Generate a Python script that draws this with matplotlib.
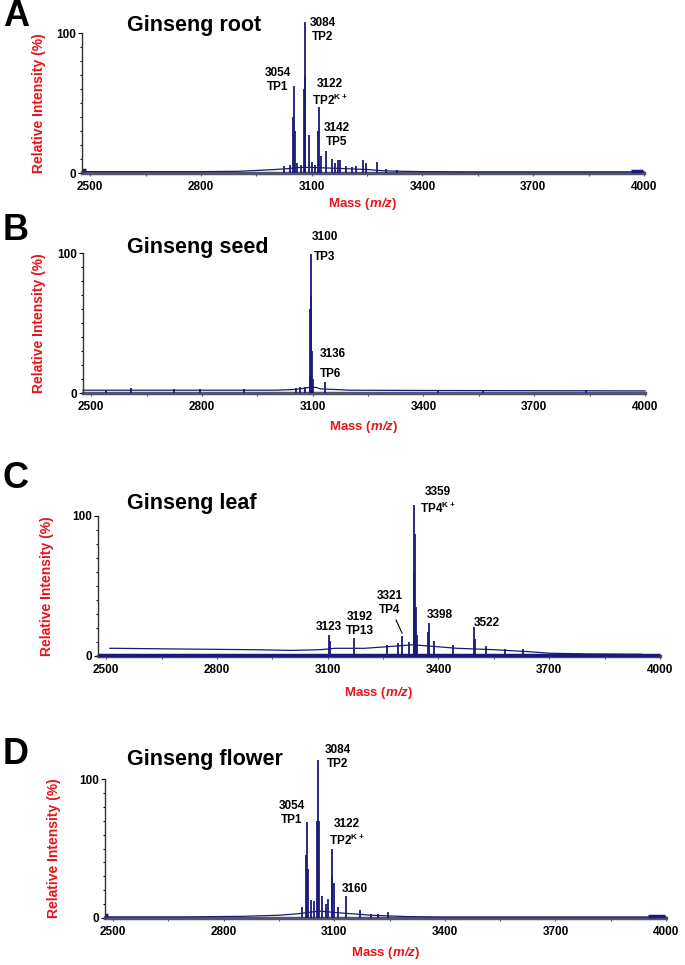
import matplotlib
matplotlib.use("Agg")
import matplotlib.pyplot as plt
import numpy as np

# ---- data (mass in Da, intensity in %) ----
# A: ginseng root
root_base_x = [2478, 2600, 2800, 2900, 2950, 3000, 3030, 3050, 3070, 3100, 3150, 3200, 3250, 3300, 3350, 3400, 3550, 4000]
root_base_y = [1.0, 1.0, 1.0, 1.2, 1.8, 2.5, 3.0, 3.5, 4.0, 4.0, 3.5, 3.0, 2.5, 1.5, 1.2, 1.0, 0.8, 0.8]
root_peak_x = [3025, 3040, 3050, 3051, 3055, 3061, 3070, 3080, 3081, 3083, 3093, 3101, 3110, 3118, 3119, 3124,
               3138, 3156, 3163, 3170, 3177, 3194, 3210, 3220, 3239, 3247, 3277, 3300, 3330]
root_peak_y = [5, 6, 40, 62, 30, 7, 6, 60, 108, 69, 27, 8, 6, 30, 47, 12,
               16, 10, 7, 9, 9, 5, 4, 5, 9, 7, 8, 3, 2]
root_edge = [(2478, 2490, 2.2), (3965, 3998, 1.5)]

# B: ginseng seed
seed_base_x = [2478, 2600, 2800, 3000, 3050, 3080, 3090, 3110, 3120, 3200, 3400, 4000]
seed_base_y = [2, 2, 2, 2, 2.5, 3.5, 4, 4, 3, 2, 1.8, 1.5]
seed_peak_x = [2541, 2607, 2725, 2796, 2915, 3054, 3065, 3080, 3093, 3094, 3095, 3096, 3098, 3101, 3134,
               3440, 3560, 3840]
seed_peak_y = [2.5, 3.5, 3, 3, 3, 3.5, 4.5, 4.5, 12, 60, 99.5, 69, 30, 10, 8, 2.2, 2.2, 2.2]
seed_edge = []

# C: ginseng leaf
leaf_base_x = [2510, 2520, 2700, 2900, 3000, 3080, 3120, 3200, 3280, 3330, 3380, 3450, 3550, 3650, 3700, 3800, 3950]
leaf_base_y = [5.5, 5.5, 5, 4.5, 4, 4.5, 5.5, 5.5, 7, 8, 7, 5.5, 4.5, 3, 2, 1.5, 1.2]
leaf_peak_x = [3104, 3107, 3172, 3260, 3290, 3301, 3320, 3333, 3334, 3336, 3338, 3342, 3372, 3375, 3388, 3440,
               3496, 3499, 3530, 3580, 3630]
leaf_peak_y = [15, 11, 13, 8, 9, 14, 10, 60, 108, 87, 35, 15, 17, 23.6, 11, 8, 21, 12, 7, 5, 5]
leaf_edge = [(2478, 4000, 1.0)]

# D: ginseng flower
flower_base_x = [2478, 2700, 2850, 2950, 3000, 3030, 3060, 3100, 3150, 3200, 3250, 3300, 3400, 4000]
flower_base_y = [0.8, 0.8, 1.2, 2, 3, 4, 5, 4, 3, 2, 1.5, 1, 0.7, 0.7]
flower_peak_x = [3012, 3024, 3025, 3028, 3037, 3045, 3054, 3055, 3058, 3067, 3078, 3082, 3093, 3094, 3098,
                 3110, 3133, 3170, 3200, 3220, 3245]
flower_peak_y = [8, 45, 69, 35, 13, 12, 70, 114, 70, 16, 10, 14, 30, 50, 25, 8, 16, 6, 3, 3, 4]
flower_edge = [(2478, 2485, 2.5), (3950, 3998, 1.5)]

panel_letters = ['A', 'B', 'C', 'D']
panel_titles = ['Ginseng root', 'Ginseng seed', 'Ginseng leaf', 'Ginseng flower']
x_ticks = [2500, 2800, 3100, 3400, 3700, 4000]

# peak labels: (text, x px, y px) in figure pixels
root_labels = [("3054\nTP1", 278, 80), ("3084\nTP2", 323, 30),
               ("3122\nTP2$^{\\mathbf{K+}}$", 330, 93), ("3142\nTP5", 337, 135)]
seed_labels = [("3100", 325, 237), ("TP3", 325, 257), ("3136", 333, 354), ("TP6", 331, 374)]
leaf_labels = [("3359\nTP4$^{\\mathbf{K+}}$", 438, 501), ("3123", 329, 627), ("3192\nTP13", 360, 624),
               ("3321\nTP4", 390, 603), ("3398", 440, 615), ("3522", 487, 623)]
flower_labels = [("3054\nTP1", 292, 813), ("3084\nTP2", 338, 757),
                 ("3122\nTP2$^{\\mathbf{K+}}$", 347, 833), ("3160", 355, 889)]

plt.rcParams['font.family'] = ['Liberation Sans', 'DejaVu Sans']
plt.rcParams['font.weight'] = 'bold'
plt.rcParams['mathtext.fontset'] = 'custom'
plt.rcParams['mathtext.bf'] = 'Liberation Sans:bold'
plt.rcParams['mathtext.rm'] = 'Liberation Sans:bold'
plt.rcParams['mathtext.bfit'] = 'Liberation Sans:bold:italic'

W, H = 685, 965
fig = plt.figure(figsize=(W / 100, H / 100), dpi=100)
fig.patch.set_facecolor('white')

# axes boxes in pixels: left, right, y of 0 %, y of 100 %
boxes = [(82, 644, 173, 33), (83, 645, 393, 253), (98, 660, 656, 516), (105, 666, 918, 779)]
letter_y = [17, 231, 478, 754]
title_y = [25, 248, 503, 760]
ylabel_x = [39, 39, 47, 54]
xlabel_y = [204, 427, 693, 953]

spectra = [
    (root_base_x, root_base_y, root_peak_x, root_peak_y, root_edge, root_labels),
    (seed_base_x, seed_base_y, seed_peak_x, seed_peak_y, seed_edge, seed_labels),
    (leaf_base_x, leaf_base_y, leaf_peak_x, leaf_peak_y, leaf_edge, leaf_labels),
    (flower_base_x, flower_base_y, flower_peak_x, flower_peak_y, flower_edge, flower_labels),
]

navy = '#1a1a7a'
red = '#e8141b'

for i, (bx, by, px, py, edge, labels) in enumerate(spectra):
    l, r, y0, y1 = boxes[i]
    ax = fig.add_axes([l / W, 1 - y0 / H, (r - l) / W, (y0 - y1) / H])
    ax.set_xlim(2478, 4000)
    ax.set_ylim(0, 100)

    ax.plot(bx, by, color=navy, lw=0.9, clip_on=False, zorder=3)
    ax.vlines(px, 0, py, color=navy, lw=1.3, clip_on=False, zorder=3)
    for x0, x1, yy in edge:
        ax.hlines(yy, x0, x1, color=navy, lw=2.5, clip_on=False, zorder=3)

    for s in ['top', 'right']:
        ax.spines[s].set_visible(False)
    ax.spines['bottom'].set_linewidth(2.5)
    ax.spines['bottom'].set_color('#55556a')
    ax.spines['left'].set_linewidth(1.0)
    ax.spines['left'].set_color('#333333')
    ax.spines['left'].set_zorder(4)

    ax.set_xticks(x_ticks)
    ax.set_xticks(np.arange(2650, 4000, 300), minor=True)
    ax.set_yticks([0, 100])
    ax.set_yticks(np.arange(10, 100, 10), minor=True)
    ax.tick_params(axis='x', which='both', length=2, width=0.8, color='#555555', pad=3.5, labelsize=8.5)
    ax.tick_params(axis='y', which='major', length=3, width=0.8, pad=1, labelsize=8.5)
    ax.tick_params(axis='y', which='minor', length=1.5, width=0.8)
    for t in ax.get_xticklabels() + ax.get_yticklabels():
        t.set_fontweight('bold')

    fig.text(3 / W, 1 - letter_y[i] / H, panel_letters[i], fontsize=26, fontweight='bold',
             ha='left', va='center')
    fig.text(127 / W, 1 - title_y[i] / H, panel_titles[i], fontsize=15.5, fontweight='bold',
             ha='left', va='center')
    fig.text(ylabel_x[i] / W, 1 - (y0 + y1) / 2 / H, 'Relative Intensity (%)', color=red,
             fontsize=10, fontweight='bold', rotation=90, ha='center', va='center')
    fig.text((l + r) / 2 / W, 1 - xlabel_y[i] / H, 'Mass ($\\mathbfit{m/z}$)', color=red,
             fontsize=9.5, fontweight='bold', ha='center', va='center')

    for txt, tx, ty in labels:
        fig.text(tx / W, 1 - ty / H, txt, fontsize=8.5, fontweight='bold', ha='center', va='center',
                 linespacing=1.2)

# leader line for the 3321 label in panel C
fig.add_artist(plt.Line2D([396 / W, 402 / W], [1 - 620 / H, 1 - 633 / H], color='black', lw=0.8))

fig.savefig('out.png', dpi=100)
